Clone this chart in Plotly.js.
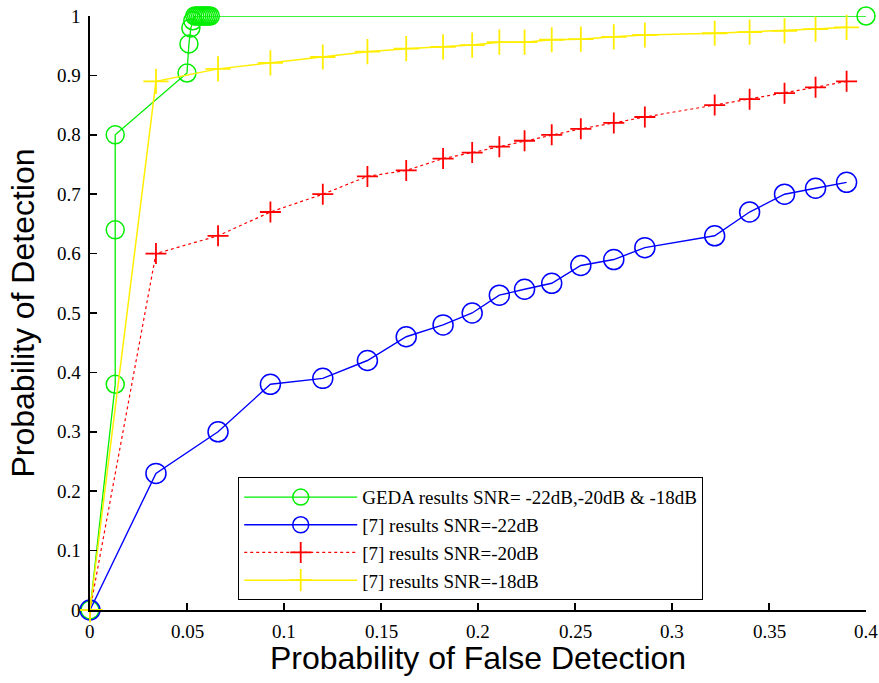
<!DOCTYPE html>
<html>
<head>
<meta charset="utf-8">
<script src="https://cdn.plot.ly/plotly-3.0.1.min.js"></script>
<style>html,body{margin:0;padding:0;background:#fff;}#chart{width:879px;height:683px;}</style>
</head>
<body>
<div id="chart"></div>
<script>
var gedaX = [0, 0.013, 0.013, 0.013, 0.05, 0.051, 0.052, 0.053, 0.054, 0.055, 0.056, 0.057, 0.058, 0.059, 0.06, 0.061, 0.062, 0.4];
var gedaY = [0, 0.38, 0.64, 0.80, 0.904, 0.953, 0.98, 0.992, 1, 1, 1, 1, 1, 1, 1, 1, 1, 1];

var refX = [0, 0.034, 0.066, 0.093, 0.12, 0.143, 0.163, 0.182, 0.197, 0.211, 0.224, 0.238, 0.253, 0.27, 0.286, 0.322, 0.34, 0.358, 0.374, 0.39];
var snr22Y = [0, 0.23, 0.30, 0.38, 0.39, 0.42, 0.46, 0.48, 0.50, 0.53, 0.54, 0.55, 0.58, 0.59, 0.61, 0.63, 0.67, 0.70, 0.71, 0.72];
var snr20Y = [0, 0.60, 0.63, 0.67, 0.70, 0.73, 0.74, 0.76, 0.77, 0.78, 0.79, 0.80, 0.81, 0.82, 0.83, 0.85, 0.86, 0.87, 0.88, 0.89];
var snr18Y = [0, 0.89, 0.911, 0.921, 0.931, 0.94, 0.945, 0.948, 0.951, 0.956, 0.956, 0.96, 0.961, 0.965, 0.968, 0.971, 0.973, 0.975, 0.978, 0.981];

var names = ['GEDA results SNR= -22dB,-20dB & -18dB', '[7] results SNR=-22dB', '[7] results SNR=-20dB', '[7] results SNR=-18dB'];
var xTicks = [0, 0.05, 0.1, 0.15, 0.2, 0.25, 0.3, 0.35, 0.4];
var xTickText = ['0', '0.05', '0.1', '0.15', '0.2', '0.25', '0.3', '0.35', '0.4'];
var yTicks = [0, 0.1, 0.2, 0.3, 0.4, 0.5, 0.6, 0.7, 0.8, 0.9, 1];
var yTickText = ['0', '0.1', '0.2', '0.3', '0.4', '0.5', '0.6', '0.7', '0.8', '0.9', '1'];

var serif = 'Liberation Serif';
var sans = 'Liberation Sans';

var traces = [
  {x: gedaX, y: gedaY, name: names[0], mode: 'lines+markers', cliponaxis: false,
   line: {color: '#00ee00', width: 1.3},
   marker: {symbol: 'circle-open', size: 18, color: '#00ee00', line: {width: 1.5, color: '#00ee00'}}},
  {x: refX, y: snr22Y, name: names[1], mode: 'lines+markers', cliponaxis: false,
   line: {color: '#0000ff', width: 1.4},
   marker: {symbol: 'circle-open', size: 20, color: '#0000ff', line: {width: 1.5, color: '#0000ff'}}},
  {x: refX, y: snr20Y, name: names[2], mode: 'lines+markers', cliponaxis: false,
   line: {color: '#ff0000', width: 1.2, dash: 'dot'},
   marker: {symbol: 'cross-thin-open', size: 15, color: '#ff0000', line: {width: 1.8, color: '#ff0000'}}},
  {x: refX, y: snr18Y, name: names[3], mode: 'lines+markers', cliponaxis: false,
   line: {color: '#ffee00', width: 1.5},
   marker: {symbol: 'cross-thin-open', size: 18, color: '#ffee00', line: {width: 1.8, color: '#ffee00'}}}
];

var tickFont = {family: serif, size: 19, color: '#000'};
var annotations = [];
xTicks.forEach(function (v, i) {
  annotations.push({x: v, xref: 'x', y: 0, yref: 'paper', yanchor: 'top', xanchor: 'center',
    yshift: -9, text: xTickText[i], showarrow: false, font: tickFont});
});
yTicks.forEach(function (v, i) {
  annotations.push({x: 0, xref: 'paper', y: v, yref: 'y', xanchor: 'right', yanchor: 'middle',
    xshift: -7, text: yTickText[i], showarrow: false, font: tickFont});
});

var layout = {
  width: 879, height: 683,
  font: {family: serif, size: 19, color: '#000'},
  margin: {l: 90, r: 13, t: 16, b: 73},
  paper_bgcolor: '#fff', plot_bgcolor: '#fff',
  showlegend: true,
  annotations: annotations,
  legend: {
    x: 0.191, y: 0.120, xanchor: 'left', yanchor: 'middle',
    bordercolor: '#000', borderwidth: 1, bgcolor: '#fff',
    font: {family: serif, size: 19, color: '#000'},
    itemwidth: 113, tracegroupgap: 0
  },
  xaxis: {
    range: [0, 0.4], tickmode: 'array', tickvals: xTicks, ticktext: xTickText,
    showticklabels: false,
    showgrid: false, zeroline: false, showline: true, linecolor: '#000', linewidth: 2,
    ticks: 'inside', ticklen: 7, tickwidth: 1.5, tickcolor: '#000',
    title: {text: 'Probability of False Detection', font: {family: sans, size: 32, color: '#000'}, standoff: 36}
  },
  yaxis: {
    range: [0, 1], tickmode: 'array', tickvals: yTicks, ticktext: yTickText,
    showticklabels: false,
    showgrid: false, zeroline: false, showline: true, linecolor: '#000', linewidth: 2,
    ticks: 'inside', ticklen: 7, tickwidth: 1.5, tickcolor: '#000',
    title: {text: 'Probability of Detection', font: {family: sans, size: 32, color: '#000'}, standoff: 44}
  }
};

Plotly.newPlot('chart', traces, layout, {displayModeBar: false, staticPlot: true});
</script>
</body>
</html>
